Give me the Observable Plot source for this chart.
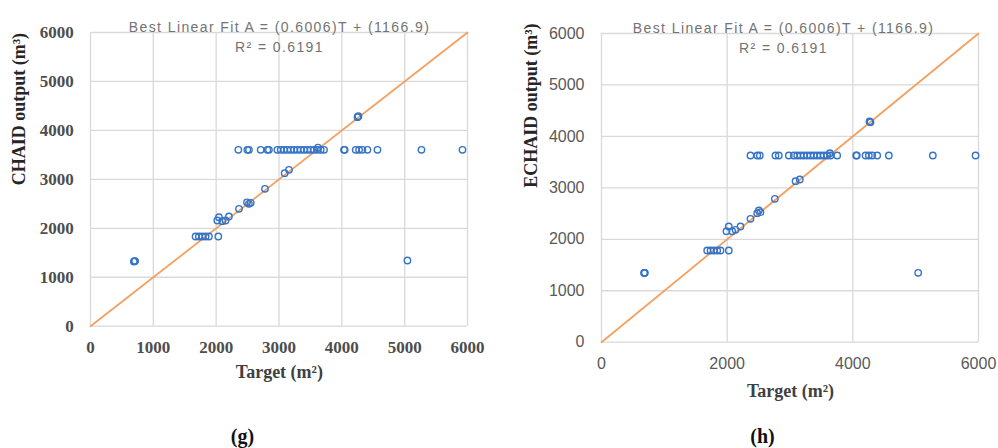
<!DOCTYPE html>
<html>
<head>
<meta charset="utf-8">
<script src="https://cdn.jsdelivr.net/npm/d3@7"></script>
<script src="https://cdn.jsdelivr.net/npm/@observablehq/plot@0.6"></script>
<style>
  html, body { margin: 0; padding: 0; background: #fff; }
  #wrap { position: relative; width: 998px; height: 448px; overflow: hidden; background: #fff; }
  #left { position: absolute; left: 0; top: 0; }
  #right { position: absolute; left: 500px; top: 0; }
</style>
</head>
<body>
<div id="wrap"><div id="left"></div><div id="right"></div></div>
<script>
// ---- data ----
const fitTitle = "Best Linear Fit A = (0.6006)T + (1166.9)";
const fitR2 = "R² = 0.6191";
const diagonal = [0, 6000];

const leftTicks = [0, 1000, 2000, 3000, 4000, 5000, 6000];
const rightXTicks = [0, 2000, 4000, 6000];
const rightYTicks = [0, 1000, 2000, 3000, 4000, 5000, 6000];

// (g) CHAID
const chaidTarget = [690, 700, 710, 1672, 1725, 1779, 1832, 1885, 2034, 2018, 2044, 2097, 2150, 2203,
  2363, 2490, 2520, 2550, 2777, 3090, 3159, 3620, 4250, 4264, 5044,
  2353, 2496, 2522, 2708, 2815, 2840, 2974, 3027, 3080, 3133, 3186, 3239, 3292, 3345, 3398, 3451,
  3504, 3557, 3610, 3664, 3717, 4035, 4045, 4221, 4274, 4327, 4407, 4567, 5267, 5920];
const chaidOutput = [1320, 1330, 1330, 1832, 1832, 1832, 1832, 1832, 1832, 2159, 2227, 2145, 2159, 2241,
  2398, 2530, 2500, 2520, 2807, 3126, 3195, 3650, 4270, 4290, 1342,
  3604, 3604, 3604, 3604, 3604, 3604, 3604, 3604, 3604, 3604, 3604, 3604, 3604, 3604, 3604, 3604,
  3604, 3604, 3604, 3604, 3604, 3604, 3604, 3604, 3604, 3604, 3604, 3604, 3604, 3604];

// (h) ECHAID
const echaidTarget = [678, 684, 690, 1682, 1735, 1788, 1841, 1894, 2026, 1989, 2026, 2080, 2133, 2212,
  2371, 2478, 2504, 2531, 2759, 3088, 3156, 3634, 4265, 4281, 5040,
  2371, 2480, 2520, 2769, 2822, 2981, 3061, 3114, 3167, 3220, 3273, 3326, 3379, 3432, 3485, 3538,
  3592, 3645, 3751, 4053, 4063, 4202, 4255, 4308, 4388, 4573, 5273, 5953];
const echaidOutput = [1345, 1349, 1349, 1782, 1782, 1782, 1782, 1782, 1782, 2157, 2249, 2157, 2185, 2249,
  2398, 2507, 2560, 2527, 2787, 3129, 3162, 3674, 4290, 4276, 1349,
  3629, 3629, 3629, 3629, 3629, 3629, 3629, 3629, 3629, 3629, 3629, 3629, 3629, 3629, 3629, 3629,
  3629, 3629, 3629, 3629, 3629, 3629, 3629, 3629, 3629, 3629, 3629, 3629];

const chaid = chaidTarget.map((t, i) => ({target: t, output: chaidOutput[i]}));
const echaid = echaidTarget.map((t, i) => ({target: t, output: echaidOutput[i]}));

// ---- styles ----
const gridStyle = {stroke: "#d9d9d9", strokeOpacity: 1, strokeWidth: 1.3};
const dotStyle = {r: 3.2, stroke: "#3474c8", strokeWidth: 1.4, fill: "none"};
const lineStyle = {stroke: "#f5a060", strokeWidth: 1.8};
const serif = "Liberation Serif, Times New Roman, serif";
const sans = "Liberation Sans, Arial, sans-serif";
const fmt = d3.format("d");

function panel(o) {
  const svg = Plot.plot({
    width: o.width, height: 448,
    marginLeft: o.ml, marginRight: o.mr, marginTop: o.mt, marginBottom: o.mb,
    x: {domain: [0, 6000]},
    y: {domain: [0, 6000]},
    style: {background: "transparent", overflow: "visible"},
    marks: [
      Plot.gridX({ticks: o.xTicks, ...gridStyle}),
      Plot.gridY({ticks: o.yTicks, ...gridStyle}),
      Plot.axisX({ticks: o.xTicks, tickFormat: fmt, tickSize: 0, tickPadding: o.xPad, label: null,
        fontSize: o.tickSize, fontFamily: o.tickFont, fontWeight: o.tickWeight, fill: o.tickColor}),
      Plot.axisY({ticks: o.yTicks, tickFormat: fmt, tickSize: 0, tickPadding: o.yPad, label: null,
        fontSize: o.tickSize, fontFamily: o.tickFont, fontWeight: o.tickWeight, fill: o.tickColor}),
      Plot.line(diagonal, {x: d => d, y: d => d, ...lineStyle}),
      Plot.dot(o.data, {x: "target", y: "output", ...dotStyle}),
      Plot.text([fitTitle], {frameAnchor: "top", dx: o.titleDx, dy: -10, fontSize: 14, fontFamily: sans, fill: "#737373"}),
      Plot.text([fitR2], {frameAnchor: "top", dx: o.titleDx, dy: 9.7, fontSize: 14, fontFamily: sans, fill: "#737373"}),
      Plot.text([o.yLabel], {frameAnchor: "left", rotate: -90, dx: o.yLabDx, dy: o.yLabDy, fontSize: 18, fontFamily: serif, fontWeight: "bold", fill: "#262626"}),
      Plot.text(["Target (m²)"], {frameAnchor: "bottom", dx: o.xLabDx, dy: o.xLabDy, fontSize: 18, fontFamily: serif, fontWeight: "bold", fill: "#404040"}),
      Plot.text([o.caption], {frameAnchor: "bottom", dx: o.capDx, dy: o.capDy, fontSize: 20, fontFamily: serif, fontWeight: "bold", fill: "#111"})
    ]
  });
  d3.select(svg).selectAll("text")
    .filter(function() { const t = this.textContent; return t === fitTitle || t === fitR2; })
    .style("letter-spacing", "1.4px");
  return svg;
}

document.getElementById("left").appendChild(panel({
  width: 500, ml: 90, mr: 33, mt: 32, mb: 122.3,
  xTicks: leftTicks, yTicks: leftTicks, data: chaid,
  xPad: 15, yPad: 16.7, tickSize: 17, tickFont: serif, tickWeight: "bold", tickColor: "#4d4d4d",
  titleDx: 0.5, yLabel: "CHAID output (m³)", yLabDx: -71, yLabDy: 6,
  xLabDx: 0.4, xLabDy: 52, caption: "(g)", capDx: -36.5, capDy: 117
}));

document.getElementById("right").appendChild(panel({
  width: 498, ml: 101, mr: 20, mt: 33, mb: 106.3,
  xTicks: rightXTicks, yTicks: rightYTicks, data: echaid,
  xPad: 15.5, yPad: 17, tickSize: 16, tickFont: sans, tickWeight: "normal", tickColor: "#595959",
  titleDx: -6.5, yLabel: "ECHAID output (m³)", yLabDx: -70, yLabDy: 0,
  xLabDx: 0.5, xLabDy: 55, caption: "(h)", capDx: -27.5, capDy: 101
}));
</script>
</body>
</html>
